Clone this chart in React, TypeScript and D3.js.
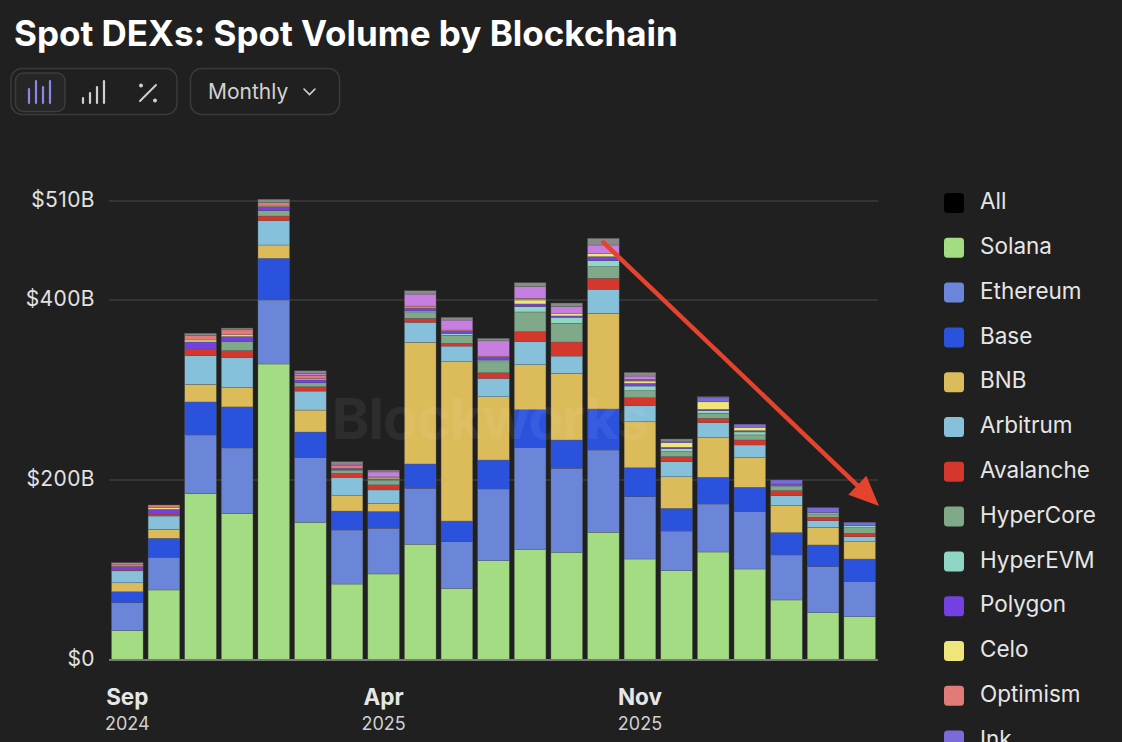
import React, {useEffect, useRef} from 'react'
import * as d3 from 'd3'

const W = 1122
const H = 742
const margin = {top: 201, right: 244, bottom: 82, left: 109}
const fontFamily = 'Inter, "Liberation Sans", sans-serif'
const bg = '#202020'

const months = ['2024-09','2024-10','2024-11','2024-12','2025-01','2025-02','2025-03','2025-04','2025-05','2025-06','2025-07',
  '2025-08','2025-09','2025-10','2025-11','2025-12','2026-01','2026-02','2026-03','2026-04','2026-05']

// values in $B per month
const solana    = [32.6, 77.8, 184.8, 162.6, 328.9, 153.0, 84.4, 95.6, 128.6, 79.6, 110.3, 123.0, 119.7, 141.9, 112.2, 99.2, 120.0, 101.1, 66.7, 52.6, 48.1]
const ethereum  = [31.0, 36.3, 65.2, 73.0, 71.1, 71.8, 60.0, 50.8, 62.2, 51.8, 79.7, 113.2, 93.3, 91.4, 69.2, 44.1, 53.3, 63.7, 50.0, 51.1, 38.9]
const base      = [12.2, 21.1, 36.7, 45.6, 46.3, 28.5, 21.1, 18.5, 27.0, 23.0, 32.2, 41.9, 31.4, 45.6, 32.2, 25.2, 29.7, 27.1, 24.8, 24.1, 25.2]
const bnb       = [10.0, 10.0, 19.6, 21.5, 14.8, 24.4, 17.0, 9.3, 135.2, 177.0, 70.3, 50.0, 74.1, 106.3, 51.1, 35.1, 44.0, 32.9, 30.0, 19.7, 19.2]
const arbitrum  = [13.3, 14.8, 31.9, 33.3, 27.0, 21.1, 20.4, 14.8, 22.2, 17.4, 20.4, 25.6, 19.2, 26.7, 17.8, 16.7, 16.7, 14.1, 11.1, 7.3, 5.6]
const avalanche = [0.8, 2.2, 7.4, 7.8, 5.2, 4.8, 4.4, 5.6, 4.4, 3.0, 6.2, 11.1, 15.6, 12.2, 8.9, 5.6, 4.8, 5.6, 5.6, 3.8, 3.8]
const hypercore = [0, 0, 0, 10.0, 5.9, 4.4, 3.7, 4.8, 6.2, 8.9, 12.2, 21.9, 20.8, 12.9, 7.8, 5.6, 5.6, 5.6, 4.4, 3.7, 6.2]
const hyperevm  = [0, 0, 0, 0, 0, 0, 0, 0.8, 1.9, 2.2, 1.9, 5.9, 6.7, 6.7, 5.2, 3.3, 2.9, 3.3, 1.5, 1.4, 2.2]
const polygon   = [4.0, 5.2, 7.8, 5.6, 4.4, 3.3, 2.0, 0.8, 3.0, 2.2, 3.0, 3.0, 1.5, 4.4, 3.0, 1.5, 1.5, 1.4, 1.5, 0, 0]
const celo      = [0, 2.2, 2.2, 1.9, 0.8, 1.5, 0, 1.2, 0, 0, 0, 4.4, 3.0, 3.8, 2.6, 5.1, 8.4, 3.8, 0, 0, 0]
const optimism  = [2.7, 2.6, 4.8, 5.6, 3.7, 3.5, 3.0, 1.2, 2.6, 1.5, 1.4, 1.9, 0, 0, 0.8, 0, 0, 0, 0, 0, 0]
const ink       = [0, 0, 0, 0, 0, 0, 0, 0, 0, 0, 0, 0, 0, 0, 1.0, 1.9, 4.6, 3.4, 4.4, 5.6, 3.8]
const sui       = [1.5, 0, 0, 0, 0, 2.0, 1.7, 5.6, 13.3, 11.1, 17.0, 12.9, 7.3, 9.2, 3.7, 0, 0, 0, 0, 0, 0]
const other     = [0, 0, 2.6, 1.9, 3.8, 3.0, 2.6, 2.0, 3.7, 3.0, 2.7, 4.4, 4.0, 7.4, 4.0, 2.2, 1.0, 0, 0, 0, 0]

const seriesNames = ['Solana','Ethereum','Base','BNB','Arbitrum','Avalanche','HyperCore','HyperEVM','Polygon','Celo','Optimism','Ink','Sui','Other']
const seriesValues = [solana, ethereum, base, bnb, arbitrum, avalanche, hypercore, hyperevm, polygon, celo, optimism, ink, sui, other]
const seriesColors = ['#a3dc82','#6b86d8','#2b52dd','#dcbb5a','#87c0da','#d6372c','#80a98a','#8fd6c4','#7440e0','#efe57a','#e07b78','#7a6cd8','#c67fe0','#8a8a8a']

const legendNames = ['All','Solana','Ethereum','Base','BNB','Arbitrum','Avalanche','HyperCore','HyperEVM','Polygon','Celo','Optimism','Ink']
const legendColors = ['#000000', ...seriesColors.slice(0, 12)]

const yTicks = [0, 200, 400, 510]
const xTickMonths = ['2024-09','2025-04','2025-11']

const monthFmt = d3.timeFormat('%b')
const yearFmt = d3.timeFormat('%Y')
const parseMonth = d3.timeParse('%Y-%m')

export default function App() {
  const ref = useRef<SVGSVGElement | null>(null)

  useEffect(() => {
    const svg = d3.select(ref.current)
    svg.selectAll('*').remove()

    svg.append('rect').attr('width', W).attr('height', H).attr('fill', bg)

    // title
    svg.append('text')
      .attr('x', 14).attr('y', 46)
      .attr('fill', '#ffffff')
      .attr('font-family', fontFamily)
      .attr('font-weight', 700)
      .attr('font-size', 35)
      .text('Spot DEXs: Spot Volume by Blockchain')

    // toolbar
    const tb = svg.append('g')
    tb.append('rect').attr('x', 11).attr('y', 68.5).attr('width', 166).attr('height', 46).attr('rx', 11)
      .attr('fill', 'none').attr('stroke', '#3a3a3a').attr('stroke-width', 1.5)
    tb.append('rect').attr('x', 15.5).attr('y', 73).attr('width', 49.5).attr('height', 38.5).attr('rx', 8)
      .attr('fill', '#262626').attr('stroke', '#3c3c3c').attr('stroke-width', 1.5)
    const icon1 = [14, 22, 16, 22]
    icon1.forEach((h, i) => {
      tb.append('line').attr('x1', 29 + i * 7).attr('x2', 29 + i * 7).attr('y1', 103).attr('y2', 103 - h)
        .attr('stroke', '#8c86e6').attr('stroke-width', 2.2).attr('stroke-linecap', 'round')
    })
    const icon2 = [5, 10, 16, 22]
    icon2.forEach((h, i) => {
      tb.append('line').attr('x1', 83 + i * 7).attr('x2', 83 + i * 7).attr('y1', 103).attr('y2', 103 - h)
        .attr('stroke', '#cfcfcf').attr('stroke-width', 2.2).attr('stroke-linecap', 'round')
    })
    tb.append('line').attr('x1', 140).attr('y1', 101).attr('x2', 156).attr('y2', 85)
      .attr('stroke', '#cfcfcf').attr('stroke-width', 2).attr('stroke-linecap', 'round')
    tb.append('circle').attr('cx', 141).attr('cy', 85.5).attr('r', 2).attr('fill', '#cfcfcf')
    tb.append('circle').attr('cx', 155).attr('cy', 100.5).attr('r', 2).attr('fill', '#cfcfcf')

    tb.append('rect').attr('x', 190.5).attr('y', 68.5).attr('width', 149).attr('height', 46).attr('rx', 11)
      .attr('fill', 'none').attr('stroke', '#3a3a3a').attr('stroke-width', 1.5)
    tb.append('text').attr('x', 208).attr('y', 99)
      .attr('fill', '#d2d2d2').attr('font-family', fontFamily).attr('font-size', 21)
      .text('Monthly')
    tb.append('path').attr('d', 'M304,89 L309.5,94.5 L315,89')
      .attr('fill', 'none').attr('stroke', '#d2d2d2').attr('stroke-width', 1.6).attr('stroke-linecap', 'round')

    const x = d3.scaleBand<string>()
      .domain(months)
      .range([margin.left, W - margin.right])
      .paddingInner(0.137)
      .paddingOuter(0.068)

    const y = d3.scaleLinear()
      .domain([0, 510])
      .range([H - margin.bottom, margin.top])

    // grid
    svg.append('g').selectAll('line')
      .data(yTicks.filter(t => t > 0))
      .enter().append('line')
      .attr('x1', margin.left).attr('x2', W - margin.right)
      .attr('y1', d => y(d)).attr('y2', d => y(d))
      .attr('stroke', '#3b3b3b').attr('stroke-width', 1.5)

    // stacked data
    const rows = months.map((m, i) => {
      const r: any = {month: m}
      seriesNames.forEach((s, k) => { r[s] = seriesValues[k][i] })
      return r
    })
    const stacked = d3.stack<any>().keys(seriesNames)(rows)

    const layers = svg.append('g').selectAll('g')
      .data(stacked)
      .enter().append('g')
      .attr('fill', (d, i) => seriesColors[i])

    layers.selectAll('rect')
      .data(d => d.filter(p => p[1] - p[0] > 0))
      .enter().append('rect')
      .attr('x', d => x(d.data.month) as number)
      .attr('width', x.bandwidth())
      .attr('y', d => y(d[1]))
      .attr('height', d => y(d[0]) - y(d[1]))
      .attr('stroke', '#5a5a5a')
      .attr('stroke-width', 0.5)
      .attr('stroke-opacity', 0.7)

    // watermark, drawn over the bars
    svg.append('text')
      .attr('x', 490).attr('y', 423)
      .attr('text-anchor', 'middle').attr('dominant-baseline', 'middle')
      .attr('font-family', fontFamily).attr('font-weight', 700).attr('font-size', 57)
      .attr('fill', '#ffffff').attr('fill-opacity', 0.06)
      .attr('letter-spacing', -1)
      .text('Blockworks')

    // baseline
    svg.append('line')
      .attr('x1', margin.left).attr('x2', W - margin.right)
      .attr('y1', y(0)).attr('y2', y(0))
      .attr('stroke', '#7a7a7a').attr('stroke-width', 2)

    // y labels
    svg.append('g').selectAll('text')
      .data(yTicks)
      .enter().append('text')
      .attr('x', 95).attr('y', d => y(d))
      .attr('text-anchor', 'end').attr('dominant-baseline', 'middle')
      .attr('fill', '#e2e2e2').attr('font-family', fontFamily).attr('font-size', 21)
      .attr('letter-spacing', 0.4)
      .text(d => d === 0 ? '$0' : `$${d}B`)

    // x labels
    const xl = svg.append('g').selectAll('g')
      .data(xTickMonths)
      .enter().append('g')
      .attr('transform', d => `translate(${(x(d) as number) + x.bandwidth() / 2},0)`)
    xl.append('text')
      .attr('y', 699).attr('text-anchor', 'middle').attr('dominant-baseline', 'middle')
      .attr('fill', '#e6e6e6').attr('font-family', fontFamily).attr('font-weight', 700).attr('font-size', 22.5)
      .text(d => monthFmt(parseMonth(d) as Date))
    xl.append('text')
      .attr('y', 725).attr('text-anchor', 'middle').attr('dominant-baseline', 'middle')
      .attr('fill', '#d0d0d0').attr('font-family', fontFamily).attr('font-size', 18)
      .text(d => yearFmt(parseMonth(d) as Date))

    // trend arrow
    const peak = months.indexOf('2025-10')
    const peakTotal = seriesValues.reduce((s, v) => s + v[peak], 0)
    const x0 = (x(months[peak]) as number) + x.bandwidth() / 2
    const y0 = y(peakTotal) + 4
    const x1 = 879, y1 = 506
    const ang = Math.atan2(y1 - y0, x1 - x0)
    const headLen = 30, headW = 13
    const bx = x1 - headLen * Math.cos(ang), by = y1 - headLen * Math.sin(ang)
    svg.append('line')
      .attr('x1', x0).attr('y1', y0).attr('x2', bx + 4 * Math.cos(ang)).attr('y2', by + 4 * Math.sin(ang))
      .attr('stroke', '#e5432d').attr('stroke-width', 4.5).attr('stroke-linecap', 'round')
    svg.append('path')
      .attr('d', `M${x1},${y1} L${bx + headW * Math.sin(ang)},${by - headW * Math.cos(ang)} L${bx - headW * Math.sin(ang)},${by + headW * Math.cos(ang)} Z`)
      .attr('fill', '#e5432d')

    // legend
    const lg = svg.append('g').selectAll('g')
      .data(legendNames)
      .enter().append('g')
      .attr('transform', (d, i) => `translate(944,${203 + i * 44.8})`)
    lg.append('rect')
      .attr('x', 0).attr('y', -10).attr('width', 20).attr('height', 20).attr('rx', 3.5)
      .attr('fill', (d, i) => legendColors[i])
    lg.append('text')
      .attr('x', 36).attr('y', 0).attr('dominant-baseline', 'middle')
      .attr('fill', '#e6e6e6').attr('font-family', fontFamily).attr('font-size', 22.5)
      .text(d => d)
  }, [])

  return (
    <svg ref={ref} width={W} height={H}
      style={{position: 'absolute', left: 0, top: 0, display: 'block'}} />
  )
}
